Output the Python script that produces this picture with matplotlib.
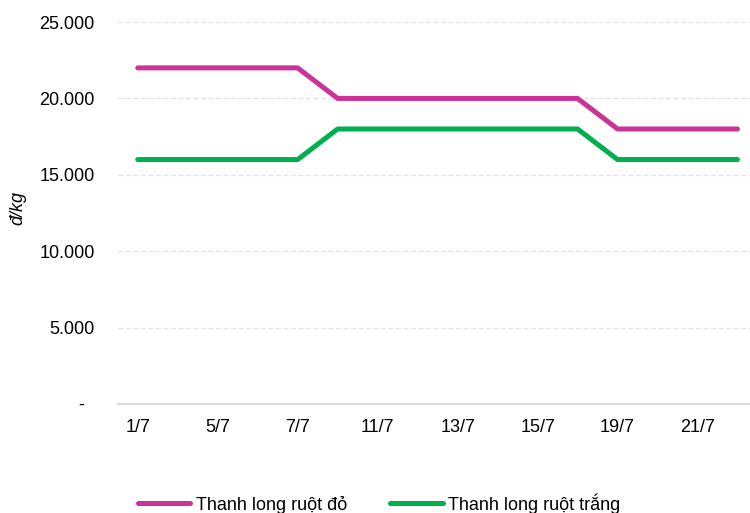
import matplotlib
matplotlib.use("Agg")
import matplotlib.pyplot as plt
from matplotlib.ticker import FuncFormatter

plt.rcParams["font.family"] = ["Liberation Sans", "DejaVu Sans"]

# giá thanh long theo ngày (đ/kg)
dates = ["1/7", "2/7", "5/7", "6/7", "7/7", "8/7", "11/7", "12/7",
         "13/7", "14/7", "15/7", "16/7", "19/7", "20/7", "21/7", "22/7"]
ruot_do = [22000, 22000, 22000, 22000, 22000, 20000, 20000, 20000,
           20000, 20000, 20000, 20000, 18000, 18000, 18000, 18000]
ruot_trang = [16000, 16000, 16000, 16000, 16000, 18000, 18000, 18000,
              18000, 18000, 18000, 18000, 16000, 16000, 16000, 16000]
y_ticks = [0, 5000, 10000, 15000, 20000, 25000]

PINK = "#CC3399"
GREEN = "#00B050"

fig = plt.figure(figsize=(7.5, 5.13), dpi=100)
ax = fig.add_axes([0.157, 0.2125, 0.853, 0.7445])

x = list(range(len(dates)))
ax.plot(x, ruot_do, color=PINK, lw=3.6, solid_capstyle="round",
        solid_joinstyle="round", label="Thanh long ruột đỏ", zorder=3)
ax.plot(x, ruot_trang, color=GREEN, lw=3.6, solid_capstyle="round",
        solid_joinstyle="round", label="Thanh long ruột trắng", zorder=3)

ax.set_xlim(-0.5, len(dates) - 0.5)
ax.set_ylim(0, 25000)
ax.set_yticks(y_ticks)
ax.yaxis.set_major_formatter(FuncFormatter(
    lambda v, _: "-  " if v == 0 else f"{int(v):,}".replace(",", ".")))
ax.set_xticks(x[::2])
ax.set_xticklabels(dates[::2])
ax.tick_params(axis="both", length=0, labelsize=13, colors="#000000")
ax.tick_params(axis="y", pad=16.5)
ax.tick_params(axis="x", pad=11)

ax.grid(axis="y", color="#E3E3E3", lw=0.9, linestyle=(0, (4, 2)))
ax.set_axisbelow(True)
for side in ("top", "right", "left"):
    ax.spines[side].set_visible(False)
ax.spines["bottom"].set_color("#D9D9D9")
ax.spines["bottom"].set_linewidth(1.5)

fig.text(18 / 750, 1 - 208 / 513, "đ/kg", fontsize=13, style="italic",
         rotation=90, ha="center", va="center")

fig.legend(loc="lower center", bbox_to_anchor=(0.5057, -0.033), ncol=2,
           frameon=False, fontsize=13, handlelength=2.9, handletextpad=0.3,
           columnspacing=2.4)

fig.savefig("out.png", dpi=100, facecolor="white")
